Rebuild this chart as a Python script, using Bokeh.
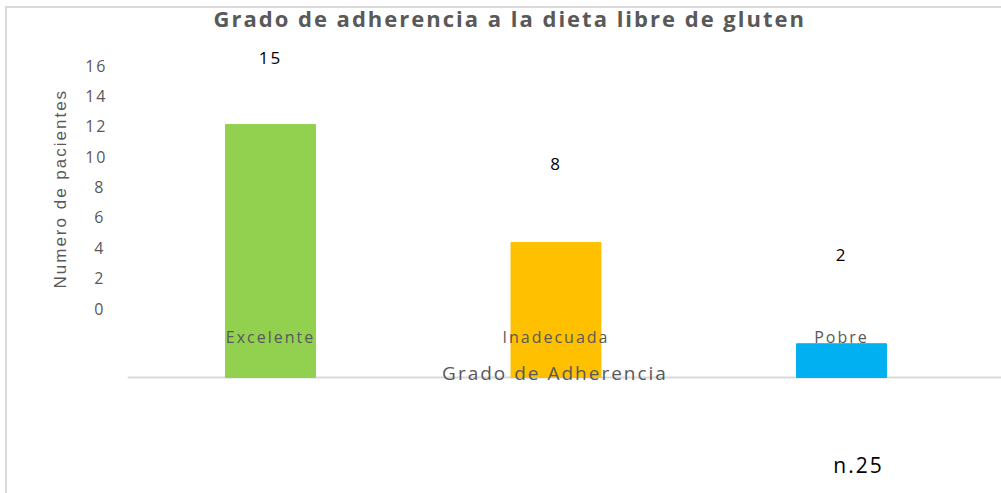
from bokeh.plotting import figure
from bokeh.models import (ColumnDataSource, Range1d, FactorRange, FixedTicker,
                          BoxAnnotation, Title)
from bokeh.core.properties import value
from bokeh.embed import file_html
from bokeh.resources import INLINE

# ---- data -------------------------------------------------------------
title_text = "Grado de adherencia a la dieta libre de gluten"
categories = ["Excelente", "Inadecuada", "Pobre"]
patients = [15, 8, 2]
bar_colors = ["#92D050", "#FFC000", "#00B0F0"]
y_ticks = [0, 2, 4, 6, 8, 10, 12, 14, 16]
y_title = "Numero de pacientes"
x_title = "Grado de Adherencia"
sample_note = "n.25"

# ---- layout -----------------------------------------------------------
W, H = 1001, 493
ML, MR, MT, MB = 110, 0, 36, 0
FRAME_H = H - MT - MB
FRAME_W = W - ML - MR
SPACING = 2  # px letter spacing applied to all texts

CAT_PX = 285.5  # pixels per category slot
X_PAD = (FRAME_W / CAT_PX - len(categories)) / 2

# value axis (ticks): 0 sits 272px below frame top, 15.19 px per unit
AX_PX = 15.1875
AX_ZERO = 272
# bars: zero 341px below frame top, 16.87 px per unit
BAR_PX = 16.87
BAR_ZERO = 341


def center_fix(texts):
    # re-centre letter-spaced texts
    return [-(len(t) * SPACING) / 2 for t in texts]


p = figure(
    x_range=FactorRange(*categories, range_padding=X_PAD, range_padding_units="absolute"),
    y_range=Range1d(-(FRAME_H - AX_ZERO) / AX_PX, AX_ZERO / AX_PX),
    x_axis_location=None,
    width=W, height=H,
    min_border_left=ML, min_border_right=MR, min_border_top=MT, min_border_bottom=MB,
    output_backend="svg", toolbar_location=None,
    title=title_text,
)
p.extra_y_ranges = {"bars": Range1d(-(FRAME_H - BAR_ZERO) / BAR_PX, BAR_ZERO / BAR_PX)}
# chart-area frame (left and top edges) drawn behind the transparent canvas border
p.styles = {
    "background": ("linear-gradient(#d9d9d9, #d9d9d9) 5px 6px / 2px 100% no-repeat, "
                   "linear-gradient(#d9d9d9, #d9d9d9) 5px 6px / 100% 2px no-repeat, #ffffff"),
    "letter-spacing": f"{SPACING}px",
}

p.outline_line_color = None
p.grid.visible = False
p.background_fill_color = "white"
p.border_fill_color = None

p.title.text_font = "Open Sans"
p.title.text_font_size = "22px"
p.title.text_font_style = "bold"
p.title.text_color = "#595959"
p.title.align = "left"
p.title.offset = 86 + (127 - 110)
p.title.standoff = 4
p.title.vertical_align = "top"

yax = p.yaxis[0]
yax.ticker = FixedTicker(ticks=y_ticks)
yax.axis_line_color = None
yax.major_tick_line_color = None
yax.minor_tick_line_color = None
yax.major_tick_out = 0
yax.major_tick_in = 0
yax.major_label_standoff = 7
yax.major_label_text_font = "Open Sans"
yax.major_label_text_font_size = "16px"
yax.major_label_text_color = "#595959"

# value-axis title, placed on the left side
p.add_layout(Title(text=y_title, align="left", offset=205, standoff=26,
                   text_font="Liberation Sans", text_font_size="17px",
                   text_font_style="normal", text_color="#595959"), "left")

src = ColumnDataSource(dict(cat=categories, n=patients, color=bar_colors,
                            label=[str(v) for v in patients],
                            zero=[0] * len(categories),
                            cat_dx=center_fix(categories),
                            lab_dx=center_fix([str(v) for v in patients])))

# category-axis line: from the start of the first category to the right edge
base = BoxAnnotation(left=0, bottom=0, top=0, y_range_name="bars",
                     fill_color=None, line_color="#d9d9d9", line_alpha=1.0,
                     line_width=2, level="underlay")
p.add_layout(base)

p.vbar(x="cat", top="n", bottom=0, width=0.315, color="color",
       y_range_name="bars", source=src)

# value labels (placed on the tick scale)
p.text(x="cat", y="n", text="label", source=src, text_align="center",
       text_baseline="middle", y_offset=-23, x_offset="lab_dx", text_color="black",
       text_font=value("Open Sans"), text_font_size="17px")

# category labels
p.text(x="cat", y="zero", text="cat", source=src, y_range_name="bars",
       text_align="center", text_baseline="middle", y_offset=-41, x_offset="cat_dx",
       text_color="#595959", text_font=value("Open Sans"), text_font_size="16px")

# x axis title
p.text(x=[categories[1]], y=[0], text=[x_title], y_range_name="bars",
       text_align="center", text_baseline="middle", y_offset=-5,
       x_offset=-1 + center_fix([x_title])[0],
       text_color="#595959", text_font=value("Open Sans"), text_font_size="19px")

# sample size note
p.text(x=[categories[2]], y=[0], text=[sample_note], y_range_name="bars",
       text_align="center", text_baseline="middle", y_offset=87,
       x_offset=17 + center_fix([sample_note])[0],
       text_color="black", text_font=value("Open Sans"), text_font_size="21px")

open("out.html", "w").write(file_html(p, INLINE))
